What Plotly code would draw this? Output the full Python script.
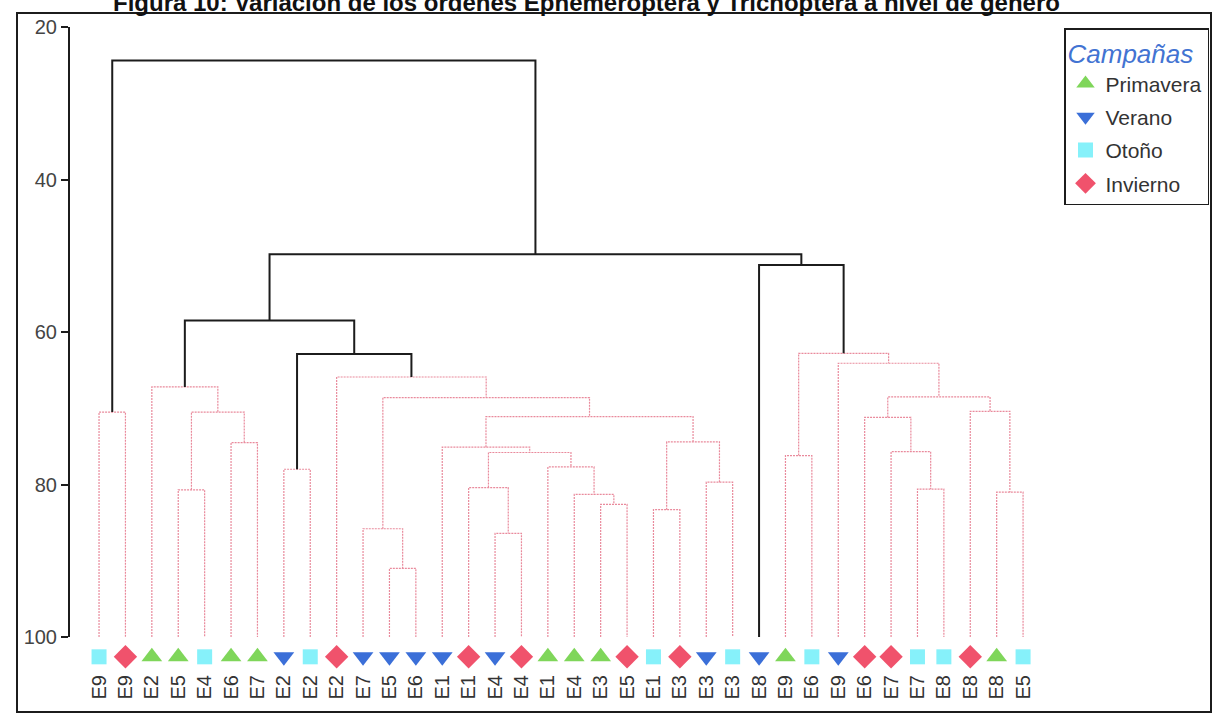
import plotly.graph_objects as go

# Estaciones (orden de las hojas del dendrograma, de izquierda a derecha)
leaf_labels = ["E9", "E9", "E2", "E5", "E4", "E6", "E7", "E2", "E2", "E2",
               "E7", "E5", "E6", "E1", "E1", "E4", "E4", "E1", "E4", "E3",
               "E5", "E1", "E3", "E3", "E3", "E8", "E9", "E6", "E9", "E6",
               "E7", "E7", "E8", "E8", "E8", "E5"]

leaf_seasons = ["Otoño", "Invierno", "Primavera", "Primavera", "Otoño", "Primavera",
                "Primavera", "Verano", "Otoño", "Invierno", "Verano", "Verano",
                "Verano", "Verano", "Invierno", "Verano", "Invierno", "Primavera",
                "Primavera", "Primavera", "Invierno", "Otoño", "Invierno", "Verano",
                "Otoño", "Verano", "Primavera", "Otoño", "Verano", "Invierno",
                "Invierno", "Otoño", "Otoño", "Invierno", "Primavera", "Otoño"]

# Fusiones: (hijo izquierdo, hijo derecho, similitud %). Índices 0..35 son hojas,
# 36 en adelante son los grupos creados por cada fusión en este mismo orden.
merge_left = [0, 3, 5, 37, 2, 7, 11, 10, 15, 14, 19, 18, 17, 45, 13, 21, 23, 51,
              50, 43, 9, 41, 40, 26, 31, 30, 29, 34, 33, 62, 28, 59, 25, 58, 36]
merge_right = [1, 4, 6, 38, 39, 8, 12, 42, 16, 44, 20, 46, 47, 48, 49, 22, 24, 52,
               53, 54, 55, 56, 57, 27, 32, 60, 61, 35, 63, 64, 65, 66, 67, 68, 69]
merge_height = [70.5, 80.7, 74.5, 70.5, 67.2, 78.0, 91.0, 85.8, 86.4, 80.4,
                82.6, 81.3, 77.7, 75.8, 75.1, 83.3, 79.7, 74.4, 71.1, 68.6,
                65.9, 62.9, 58.5, 76.2, 80.6, 75.7, 71.2, 81.0, 70.4, 68.5,
                64.1, 62.8, 51.2, 49.8, 24.4]

# Grupos con estructura significativa (trazo negro continuo)
significant_nodes = [57, 58, 68, 69, 70]

season_names = ["Primavera", "Verano", "Otoño", "Invierno"]
season_symbols = {"Primavera": "triangle-up", "Verano": "triangle-down",
                  "Otoño": "square", "Invierno": "diamond"}
season_colors = {"Primavera": "#7fd65a", "Verano": "#3b6fd8",
                 "Otoño": "#86f1fa", "Invierno": "#f0526c"}
season_sizes = {"Primavera": 18, "Verano": 18, "Otoño": 15, "Invierno": 18}

Y_TICKS = [20, 40, 60, 80, 100]
LEAF_LEVEL = 100
MARKER_ROW = 102.6

# Coordenadas de cada nodo (posición media de sus hijos, altura de fusión)
n_leaves = len(leaf_labels)
node_x = {i: float(i) for i in range(n_leaves)}
node_h = {i: LEAF_LEVEL for i in range(n_leaves)}
pink_x, pink_y, black_x, black_y = [], [], [], []
for k, (a, b, h) in enumerate(zip(merge_left, merge_right, merge_height)):
    nid = n_leaves + k
    node_x[nid] = (node_x[a] + node_x[b]) / 2
    node_h[nid] = h
    xs = [node_x[a], node_x[a], node_x[b], node_x[b], None]
    ys = [node_h[a], h, h, node_h[b], None]
    if nid in significant_nodes:
        black_x += xs
        black_y += ys
    else:
        pink_x += xs
        pink_y += ys

fig = go.Figure()

fig.add_trace(go.Scatter(
    x=pink_x, y=pink_y, mode="lines", showlegend=False, hoverinfo="skip",
    line=dict(color="#e98a9c", width=1.2, dash="2px,1px")))
fig.add_trace(go.Scatter(
    x=black_x, y=black_y, mode="lines", showlegend=False, hoverinfo="skip",
    line=dict(color="#1c1c1c", width=2)))

# Símbolos de campaña bajo cada hoja (fila propia, misma escala vertical)
for s in season_names:
    idx = [i for i, v in enumerate(leaf_seasons) if v == s]
    fig.add_trace(go.Scatter(
        x=idx, y=[MARKER_ROW] * len(idx), mode="markers", name=s,
        legendgroup=s, yaxis="y3", cliponaxis=False, hoverinfo="skip",
        marker=dict(symbol=season_symbols[s], color=season_colors[s],
                    size=season_sizes[s], line=dict(width=0))))

W, H = 1212, 717
L, R, T, B = 70, 162, 27, 45
pw, ph = W - L - R, H - T - B
AXIS_BOTTOM = 637                      # píxel donde termina el eje de similitud
split = (H - B - AXIS_BOTTOM) / ph     # fracción del área ocupada por la fila de símbolos
px_per_unit = (AXIS_BOTTOM - T) / (Y_TICKS[-1] - Y_TICKS[0])


def px_x(p):
    return (p - L) / pw


def px_y(p):
    return (H - B - p) / ph


fig.update_layout(
    width=W, height=H,
    margin=dict(l=L, r=R, t=T, b=B, pad=0, autoexpand=False),
    paper_bgcolor="white", plot_bgcolor="white",
    font=dict(family="Liberation Sans, Arial, sans-serif", color="#333"),
    xaxis=dict(
        range=[-1.10, 36.02], tickmode="array",
        tickvals=list(range(n_leaves)), ticktext=leaf_labels,
        tickangle=-90, ticks="", showline=False, showgrid=False,
        zeroline=False, ticklabelstandoff=33, anchor="y",
        tickfont=dict(size=20, color="#333")),
    yaxis=dict(
        domain=[split, 1], range=[100, 20], tickmode="array", tickvals=Y_TICKS,
        ticks="outside", ticklen=7, tickwidth=1.5, tickcolor="#1c1c1c",
        showline=True, linewidth=2, linecolor="#1c1c1c",
        showgrid=False, zeroline=False,
        tickfont=dict(size=20, color="#444")),
    yaxis2=dict(
        range=[100, 20], overlaying="y", anchor="x", side="left",
        tickmode="array", tickvals=Y_TICKS, ticks="inside", ticklen=9,
        tickwidth=1.5, tickcolor="#1c1c1c", showticklabels=False,
        showline=False, showgrid=False, zeroline=False),
    yaxis3=dict(
        domain=[0, split], anchor="x",
        range=[LEAF_LEVEL + (H - B - AXIS_BOTTOM) / px_per_unit, LEAF_LEVEL],
        visible=False, showgrid=False, zeroline=False),
    legend=dict(
        x=px_x(1064), y=px_y(28), xanchor="left", yanchor="top",
        bgcolor="white", bordercolor="#1c1c1c", borderwidth=1.5,
        font=dict(size=21, color="#333"), tracegroupgap=3,
        title=dict(text="<i>Campañas</i>",
                   font=dict(size=26, color="#4273d2"))),
    showlegend=True,
)

# Marco de la figura
fig.add_shape(type="rect", xref="paper", yref="paper",
              x0=px_x(17), x1=px_x(1211), y0=px_y(712), y1=px_y(13),
              line=dict(color="#1c1c1c", width=2), fillcolor="rgba(0,0,0,0)",
              layer="below")

fig.add_annotation(
    text="<b>Figura 10: Variación de los órdenes Ephemeroptera y Trichoptera a nivel de género</b>",
    xref="paper", yref="paper", x=px_x(586), y=px_y(2.5),
    xanchor="center", yanchor="middle", showarrow=False,
    font=dict(size=24, color="#111"))

fig.write_html("out.html")
